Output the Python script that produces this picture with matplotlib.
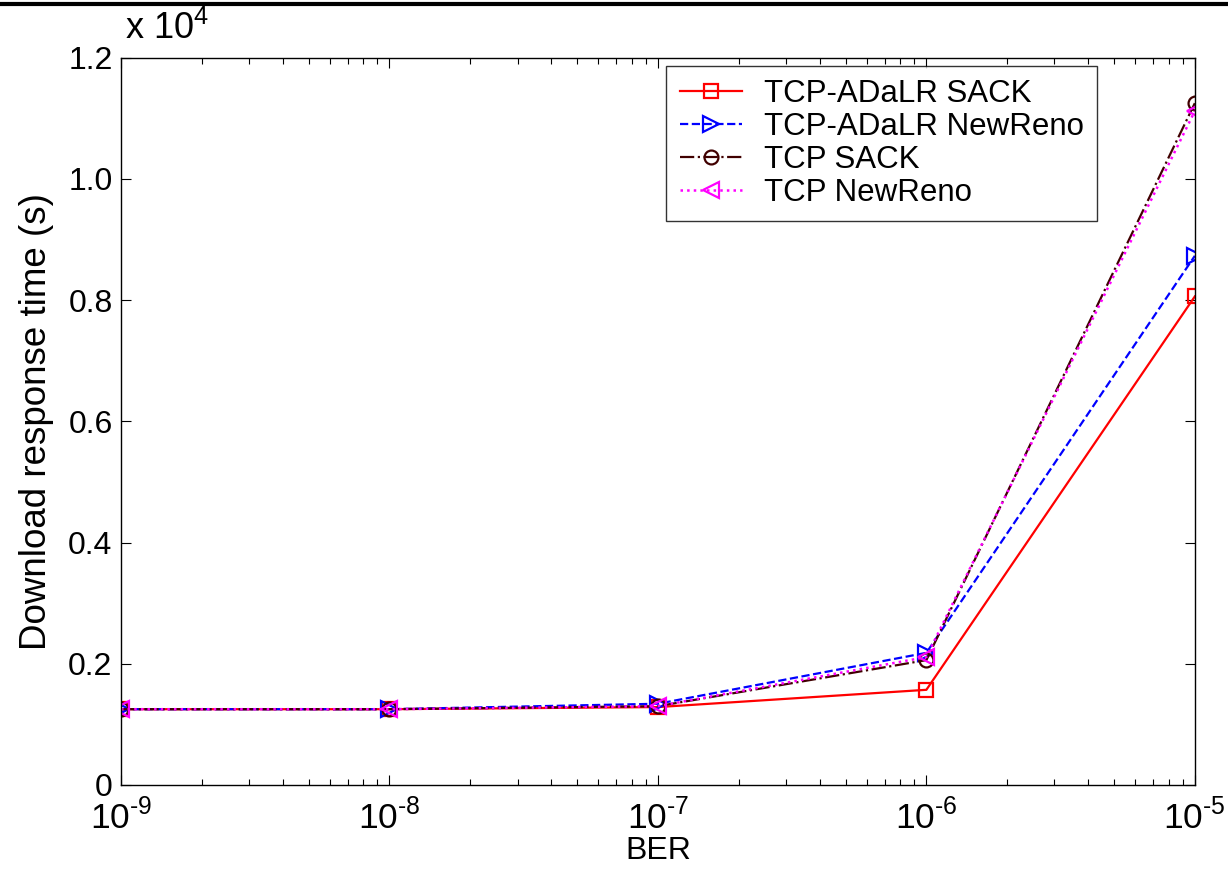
import math
import matplotlib.pyplot as plt
import matplotlib.ticker as mticker
from matplotlib.lines import Line2D

plt.rcParams['font.family'] = ['Liberation Sans', 'DejaVu Sans']
plt.rcParams['mathtext.fontset'] = 'custom'
plt.rcParams['mathtext.rm'] = 'Liberation Sans'

# data
ber = [1e-9, 1e-8, 1e-7, 1e-6, 1e-5]
adalr_sack = [1250, 1250, 1285, 1570, 8060]
adalr_newreno = [1250, 1250, 1340, 2180, 8730]
tcp_sack = [1250, 1250, 1300, 2060, 11250]
tcp_newreno = [1250, 1250, 1300, 2110, 11120]
labels = ['TCP-ADaLR SACK', 'TCP-ADaLR NewReno', 'TCP SACK', 'TCP NewReno']

fig = plt.figure(figsize=(12.28, 8.69), dpi=100)
ax = fig.add_axes([0.0985, 0.0967, 0.8745, 0.837])

ax.plot(ber, adalr_sack, '-', color='red', lw=1.6, marker='s', ms=10,
        mfc='none', mew=1.6, label=labels[0])
ax.plot(ber, adalr_newreno, '--', color='blue', lw=1.6, marker='>', ms=11,
        mfc='none', mew=1.6, label=labels[1])
ax.plot(ber, tcp_sack, '-.', color='#400000', lw=1.6, marker='o', ms=10,
        mfc='none', mew=1.6, label=labels[2])
ax.plot(ber, tcp_newreno, ':', color='magenta', lw=1.8, marker='<', ms=11,
        mfc='none', mew=1.6, label=labels[3])

ax.set_xscale('log')
ax.set_xlim(1e-9, 1e-5)
ax.set_ylim(0, 12000)
ax.set_yticks([0, 2000, 4000, 6000, 8000, 10000, 12000])
ax.yaxis.set_major_formatter(mticker.FuncFormatter(
    lambda v, p: '0' if v == 0 else f'{v / 1e4:.1f}'))
ax.xaxis.set_major_locator(mticker.LogLocator(base=10, numticks=10))
ax.xaxis.set_minor_locator(mticker.LogLocator(base=10, subs=range(2, 10), numticks=10))
ax.xaxis.set_major_formatter(mticker.FuncFormatter(
    lambda v, p: '10$^{\u2010%d}$' % abs(round(math.log10(v)))))

ax.tick_params(which='both', direction='in', top=True, right=True, width=0.8)
ax.tick_params(which='major', length=7)
ax.tick_params(which='minor', length=4)
ax.tick_params(axis='y', which='major', labelsize=23, pad=6)
ax.tick_params(axis='x', which='major', labelsize=25.5, pad=10)
for s in ax.spines.values():
    s.set_linewidth(1.0)

ax.set_xlabel('BER', fontsize=23, labelpad=0)
ax.set_ylabel('Download response time (s)', fontsize=26.5, labelpad=10)
fig.text(0.102, 0.946, r'x 10$^{\mathregular{4}}$', fontsize=26, ha='left', va='bottom')

leg = ax.legend(loc='upper right', bbox_to_anchor=(0.909, 0.989), borderaxespad=0,
                fontsize=22.5, frameon=True, fancybox=False, edgecolor='black',
                handlelength=2.0, borderpad=0.42, labelspacing=0.1, handletextpad=0.7)
leg.get_frame().set_linewidth(1.0)

# black rule across the top of the page
fig.add_artist(Line2D([0, 1], [0.995, 0.995], transform=fig.transFigure,
                      color='black', lw=3))

fig.savefig('out.png', dpi=100)
